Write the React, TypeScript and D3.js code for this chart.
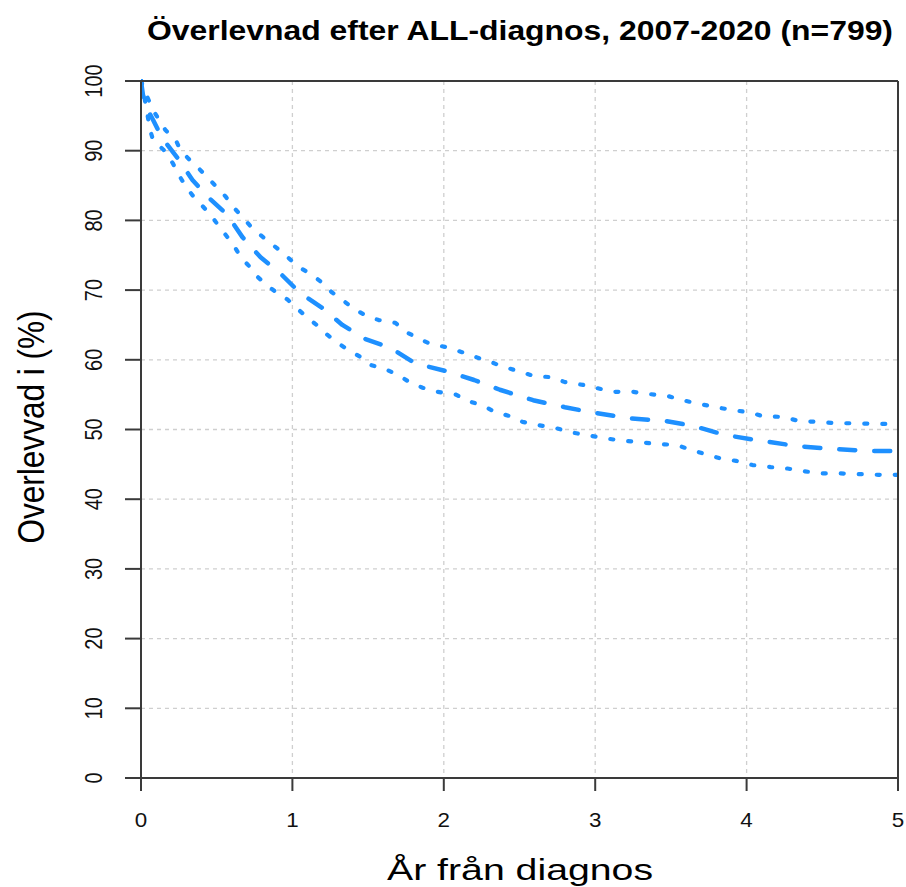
import React from "react";
import * as d3 from "d3";

// Kaplan–Meier estimate (years from diagnosis, survival %)
const estTime = [0, 0.013, 0.053, 0.08, 0.14, 0.24, 0.34, 0.44, 0.57, 0.67, 0.79, 0.92, 1.05, 1.2, 1.33, 1.48, 1.65, 1.81, 2.01, 2.2, 2.37, 2.59, 2.8, 2.99, 3.23, 3.47, 3.65, 3.86, 4.09, 4.34, 4.57, 4.83, 5.0];
const estSurv = [100, 98, 95.5, 94.4, 91.8, 89, 85.8, 83.4, 80.8, 77.6, 74.7, 72.4, 69.6, 67.4, 65, 63, 61.7, 59.5, 58.4, 57.1, 55.7, 54.2, 53.2, 52.4, 51.6, 51.2, 50.5, 49.2, 48.4, 47.6, 47.2, 46.9, 46.9];

// Upper confidence limit
const upperTime = [0, 0.02, 0.08, 0.16, 0.23, 0.26, 0.32, 0.38, 0.44, 0.5, 0.56, 0.61, 0.67, 0.73, 0.79, 0.85, 0.93, 0.99, 1.05, 1.13, 1.2, 1.26, 1.33, 1.4, 1.48, 1.57, 1.68, 1.75, 1.83, 1.91, 2.02, 2.12, 2.21, 2.31, 2.39, 2.49, 2.59, 2.71, 2.8, 2.92, 3.0, 3.12, 3.25, 3.35, 3.48, 3.58, 3.68, 3.8, 3.9, 4.01, 4.11, 4.24, 4.35, 4.47, 4.59, 4.72, 4.84, 5.0];
const upperSurv = [100, 98.8, 95.8, 93, 91.5, 90.1, 88.7, 87.5, 86.1, 84.8, 83.4, 81.9, 80.5, 79, 77.9, 76.8, 75.5, 74.3, 73.2, 72.2, 71, 69.7, 68.6, 67.4, 66.4, 65.7, 65.3, 64, 63.1, 62.3, 61.8, 61.1, 60.4, 59.7, 59, 58.4, 57.7, 57.5, 56.8, 56.4, 56, 55.4, 55.4, 55.1, 54.8, 54.2, 53.7, 53.2, 52.8, 52.5, 51.9, 51.8, 51.2, 51.1, 50.9, 50.9, 50.8, 50.8];

// Lower confidence limit
const lowerTime = [0, 0.02, 0.06, 0.08, 0.15, 0.21, 0.25, 0.29, 0.34, 0.4, 0.46, 0.51, 0.56, 0.61, 0.66, 0.72, 0.77, 0.83, 0.9, 0.97, 1.03, 1.1, 1.16, 1.23, 1.3, 1.37, 1.45, 1.51, 1.61, 1.7, 1.78, 1.86, 1.96, 2.08, 2.16, 2.26, 2.34, 2.44, 2.52, 2.63, 2.74, 2.84, 2.94, 3.05, 3.17, 3.29, 3.41, 3.53, 3.62, 3.72, 3.82, 3.93, 4.04, 4.16, 4.27, 4.38, 4.5, 4.62, 4.75, 4.87, 5.0];
const lowerSurv = [100, 98, 93, 91.5, 90.1, 88.2, 86.5, 85.1, 83.6, 82.2, 80.8, 79.3, 77.9, 76.5, 74.7, 73.3, 71.9, 70.7, 69.6, 68.6, 67.4, 66, 65, 63.6, 62.4, 61.4, 60.4, 59.3, 58.7, 57.8, 56.7, 56, 55.4, 55, 54.1, 53.4, 52.5, 51.9, 51.1, 50.6, 50.2, 49.6, 49.2, 48.8, 48.4, 48.2, 47.9, 47.8, 47.2, 46.5, 45.9, 45.5, 44.9, 44.6, 44.4, 44, 43.7, 43.7, 43.6, 43.5, 43.5];

const xTicks = [0, 1, 2, 3, 4, 5];
const yTicks = [0, 10, 20, 30, 40, 50, 60, 70, 80, 90, 100];

const title = "Överlevnad efter ALL-diagnos, 2007-2020 (n=799)";
const xLabel = "År från diagnos";
const yLabel = "Overlevvad i (%)";

const W = 906;
const H = 887;
const left = 141;
const right = 898;
const top = 81;
const bottom = 778;
const font = "'Liberation Sans', Arial, Helvetica, sans-serif";
const blue = "#1E90FF";
const axisColor = "#3a3a3a";

export default function App() {
  const x = d3.scaleLinear().domain([0, 5]).range([left, right]);
  const y = d3.scaleLinear().domain([0, 100]).range([bottom, top]);

  const line = d3
    .line<[number, number]>()
    .x((d) => x(d[0]))
    .y((d) => y(d[1]))
    .curve(d3.curveLinear);

  const pts = (t: number[], s: number[]) => t.map((v, i) => [v, s[i]] as [number, number]);

  return (
    <svg
      width={W}
      height={H}
      style={{ position: "absolute", left: 0, top: 0, background: "#fff" }}
      fontFamily={font}
    >
      <defs>
        <clipPath id="plotClip">
          <rect x={left} y={top - 2} width={right - left} height={bottom - top + 2} />
        </clipPath>
      </defs>

      {/* grid */}
      <g stroke="#cfcfcf" strokeWidth={1.3} strokeDasharray="4 4">
        {xTicks.slice(1, -1).map((t) => (
          <line key={"gx" + t} x1={x(t)} x2={x(t)} y1={top} y2={bottom} />
        ))}
        {yTicks.slice(1, -1).map((t) => (
          <line key={"gy" + t} x1={left} x2={right} y1={y(t)} y2={y(t)} />
        ))}
      </g>

      {/* survival curves */}
      <g clipPath="url(#plotClip)" fill="none" stroke={blue} strokeLinecap="round" strokeLinejoin="round">
        <path d={line(pts(upperTime, upperSurv)) || ""} strokeWidth={4.2} strokeDasharray="3 15" />
        <path d={line(pts(lowerTime, lowerSurv)) || ""} strokeWidth={4.2} strokeDasharray="3 15" />
        <path d={line(pts(estTime, estSurv)) || ""} strokeWidth={4.5} strokeDasharray="16 19" />
      </g>

      {/* frame */}
      <g stroke={axisColor} strokeWidth={2} fill="none">
        <line x1={left} x2={right} y1={top} y2={top} />
        <line x1={right} x2={right} y1={top} y2={bottom} />
        <line x1={left} x2={right} y1={bottom} y2={bottom} />
        <line x1={left} x2={left} y1={top} y2={bottom} />
      </g>

      {/* y axis */}
      <g stroke={axisColor} strokeWidth={2}>
        {yTicks.map((t) => (
          <line key={"yt" + t} x1={left - 16} x2={left} y1={y(t)} y2={y(t)} />
        ))}
      </g>
      <g fontSize={20} fill="#111" textAnchor="middle">
        {yTicks.map((t) => (
          <text key={"yl" + t} transform={`translate(102,${y(t)}) scale(1.2,1) rotate(-90)`}>
            {t}
          </text>
        ))}
      </g>

      {/* x axis */}
      <g stroke={axisColor} strokeWidth={2}>
        {xTicks.map((t) => (
          <line key={"xt" + t} x1={x(t)} x2={x(t)} y1={bottom} y2={bottom + 13} />
        ))}
      </g>
      <g fontSize={20} fill="#111" textAnchor="middle">
        {xTicks.map((t) => (
          <text key={"xl" + t} transform={`translate(${x(t)},827) scale(1.12,1)`}>
            {t}
          </text>
        ))}
      </g>

      {/* titles */}
      <text
        x={520}
        y={40}
        fontSize={28}
        fontWeight="bold"
        textAnchor="middle"
        textLength={746}
        lengthAdjust="spacingAndGlyphs"
        fill="#000"
      >
        {title}
      </text>
      <text
        x={520}
        y={880}
        fontSize={30}
        textAnchor="middle"
        textLength={266}
        lengthAdjust="spacingAndGlyphs"
        fill="#000"
      >
        {xLabel}
      </text>
      <text
        transform="translate(44,427) scale(1.15,1) rotate(-90)"
        fontSize={32}
        textAnchor="middle"
        textLength={233}
        lengthAdjust="spacingAndGlyphs"
        fill="#000"
      >
        {yLabel}
      </text>
    </svg>
  );
}
